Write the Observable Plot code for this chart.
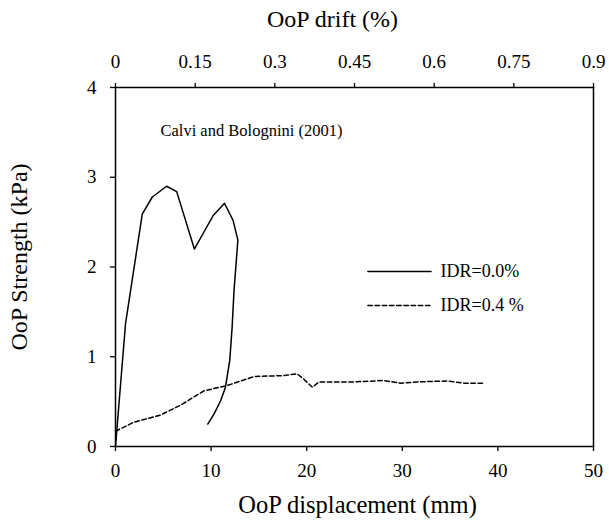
<!DOCTYPE html>
<html>
<head>
<meta charset="utf-8">
<script src="https://cdn.jsdelivr.net/npm/d3@7"></script>
<script src="https://cdn.jsdelivr.net/npm/@observablehq/plot@0.6"></script>
<style>
  html, body { margin: 0; padding: 0; background: #fff; }
  #chart svg { display: block; }
</style>
</head>
<body>
<div id="chart"></div>
<script>
// Out-of-plane response, Calvi and Bolognini (2001)
const seriesNames = ["IDR=0.0%", "IDR=0.4 %"];

// IDR = 0.0 %: displacement (mm) and strength (kPa)
const idr00Disp = [0, 1.05, 2.8, 3.85, 5.35, 6.4, 8.25, 9.25, 10.2, 11.4, 12.3, 12.8, 12.4, 12.2, 11.95, 11.5, 11.0, 10.3, 9.65];
const idr00Strength = [0, 1.37, 2.59, 2.78, 2.90, 2.84, 2.20, 2.39, 2.57, 2.71, 2.52, 2.30, 1.74, 1.33, 0.96, 0.66, 0.51, 0.36, 0.25];

// IDR = 0.4 %
const idr04Disp = [0, 1.9, 4.7, 6.8, 9.25, 11.7, 14.5, 17.6, 19.0, 19.7, 20.6, 21.3, 25.0, 28.1, 29.8, 31.6, 34.7, 36.5, 38.6];
const idr04Strength = [0.17, 0.27, 0.35, 0.46, 0.62, 0.68, 0.78, 0.79, 0.81, 0.75, 0.66, 0.72, 0.72, 0.735, 0.705, 0.72, 0.73, 0.705, 0.705];

// Axis ticks
const dispTicks = [0, 10, 20, 30, 40, 50];
const strengthTicks = [0, 1, 2, 3, 4];
const driftTicks = [0, 0.15, 0.3, 0.45, 0.6, 0.75, 0.9];
const driftLabels = ["0", "0.15", "0.3", "0.45", "0.6", "0.75", "0.9"];

// Axis titles and note
const xTitle = "OoP displacement (mm)";
const topTitle = "OoP drift (%)";
const yTitle = "OoP Strength (kPa)";
const note = "Calvi and Bolognini (2001)";

// 50 mm of displacement corresponds to 0.9 % drift
const mmPerDrift = 50 / 0.9;

const rows = [
  ...idr00Disp.map((d, i) => ({series: seriesNames[0], disp: d, strength: idr00Strength[i]})),
  ...idr04Disp.map((d, i) => ({series: seriesNames[1], disp: d, strength: idr04Strength[i]}))
];

const dashOf = s => s === seriesNames[1] ? "4.5,2.7" : null;

// Legend placement (data units of the plot)
const legendX0 = 26.4, legendX1 = 33.0, legendTextX = 34.0;
const legendY = [1.95, 1.57];
const legendRows = seriesNames.flatMap((s, i) => [
  {series: s, disp: legendX0, strength: legendY[i]},
  {series: s, disp: legendX1, strength: legendY[i]}
]);
const legendText = seriesNames.map((s, i) => ({series: s, disp: legendTextX, strength: legendY[i]}));

const font = "'Liberation Serif', 'Times New Roman', serif";

const chart = Plot.plot({
  width: 609,
  height: 521,
  marginLeft: 115,
  marginRight: 16,
  marginTop: 87,
  marginBottom: 75,
  style: {fontFamily: font, fontSize: "19px", color: "#000", background: "#fff"},
  x: {domain: [0, 50]},
  y: {domain: [0, 4]},
  marks: [
    Plot.axisX({
      anchor: "bottom", ticks: dispTicks, tickSize: 5, tickPadding: 12,
      label: null, fontSize: 19, strokeWidth: 1.3
    }),
    Plot.axisX({
      anchor: "top", ticks: driftTicks.map(d => d * mmPerDrift),
      tickFormat: (v) => driftLabels[driftTicks.findIndex(d => Math.abs(d * mmPerDrift - v) < 1e-6)],
      tickSize: 5, tickPadding: 15,
      label: null, fontSize: 19, strokeWidth: 1.3
    }),
    Plot.axisY({
      anchor: "left", ticks: strengthTicks, tickFormat: d => String(d),
      tickSize: 5, tickPadding: 14,
      label: null, fontSize: 19, strokeWidth: 1.3
    }),
    Plot.frame({stroke: "#000", strokeWidth: 1.5}),
    // axis titles
    Plot.text([xTitle], {frameAnchor: "bottom", lineAnchor: "middle", textAnchor: "middle", dy: 59, dx: 3, fontSize: 24.5, fill: "#000"}),
    Plot.text([topTitle], {frameAnchor: "top", lineAnchor: "middle", textAnchor: "middle", dy: -68, dx: -22, fontSize: 24, fill: "#000"}),
    Plot.text([yTitle], {frameAnchor: "left", lineAnchor: "middle", textAnchor: "middle", dx: -96, dy: -10, rotate: -90, fontSize: 24, fill: "#000"}),
    // data series
    ...seriesNames.map(s => Plot.line(rows.filter(r => r.series === s), {
      x: "disp", y: "strength", stroke: "#000", strokeWidth: 1.5,
      strokeDasharray: dashOf(s), curve: "linear"
    })),
    // legend
    ...seriesNames.map(s => Plot.line(legendRows.filter(r => r.series === s), {
      x: "disp", y: "strength", stroke: "#000", strokeWidth: 1.5, strokeDasharray: dashOf(s)
    })),
    Plot.text(legendText, {
      x: "disp", y: "strength", text: "series", textAnchor: "start", fontSize: 18, fill: "#000"
    }),
    Plot.text([note], {
      frameAnchor: "top-left", lineAnchor: "middle", dx: 45, dy: 43, textAnchor: "start", fontSize: 16.5, fill: "#000"
    })
  ]
});

document.getElementById("chart").append(chart);
</script>
</body>
</html>
